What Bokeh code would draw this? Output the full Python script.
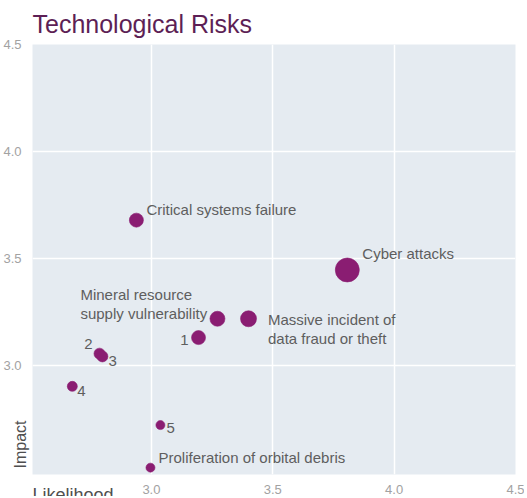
from bokeh.plotting import figure
from bokeh.models import ColumnDataSource, LabelSet, Range1d, FixedTicker, Title
from bokeh.core.properties import value
from bokeh.embed import file_html
from bokeh.resources import INLINE

# ---- data ----
title_text = "Technological Risks"
x_title = "Likelihood"
y_title = "Impact"
risks = ["Critical systems failure", "Cyber attacks",
         "Mineral resource\nsupply vulnerability",
         "Massive incident of\ndata fraud or theft",
         "1", "2", "3", "4", "5", "Proliferation of orbital debris"]
likelihood = [2.938, 3.807, 3.272, 3.400, 3.194, 2.786, 2.798, 2.674, 3.037, 2.996]
impact = [3.679, 3.446, 3.218, 3.218, 3.130, 3.055, 3.042, 2.902, 2.721, 2.522]
bubble = [14, 24, 15, 16, 14, 11, 11, 10, 9, 9]
x_ticks = [3.0, 3.5, 4.0, 4.5]
y_ticks = [3.0, 3.5, 4.0, 4.5]
tick_labels = ["3.0", "3.5", "4.0", "4.5"]

# ---- label styling (pixel offsets from each bubble) ----
lab_dx = [10, 15, -137, 147, -10, -7, 6, 5, 6, 8]
lab_dy = [11, 16, 15, -10, -2, 10, -5, -5, -3, 10]
lab_align = ["left", "left", "left", "right", "right", "right", "left", "left", "left", "left"]

PURPLE = "#8a1d72"
TEXT = "#5e5e5e"
TICK = "#a2a2a2"
DARK = "#4f4f4f"
FONT = "Liberation Sans"

x0, x1 = 2.51, 4.5
y0, y1 = 2.49, 4.5

p = figure(frame_width=483, frame_height=430,
           min_border_left=31, min_border_right=9, min_border_top=44, min_border_bottom=18,
           x_range=Range1d(x0, x1), y_range=Range1d(y0, y1),
           output_backend="svg", toolbar_location=None,
           background_fill_color="#e5ebf1", border_fill_color="white")
p.outline_line_color = None

p.title = Title(text=title_text, align="left", text_font=FONT, text_font_size="25px",
                text_font_style="normal", text_color="#5d1f55", standoff=13)

for ax in (p.xaxis[0], p.yaxis[0]):
    ax.axis_line_color = None
    ax.major_tick_line_color = None
    ax.minor_tick_line_color = None
    ax.major_label_text_color = TICK
    ax.major_label_text_font = FONT
    ax.major_label_text_font_size = "13px"
p.xaxis.ticker = FixedTicker(ticks=x_ticks)
p.yaxis.ticker = FixedTicker(ticks=y_ticks)
p.xaxis.major_label_overrides = {t: s for t, s in zip(x_ticks, tick_labels)}
p.yaxis.major_label_overrides = {t: s for t, s in zip(y_ticks, tick_labels)}
p.xaxis.major_label_standoff = 4
p.yaxis.major_label_standoff = 5

# axis names drawn as side titles that overlap the tick-label rows
p.add_layout(Title(text=x_title, align="left", vertical_align="top", text_font=FONT,
                   text_font_size="18px", text_font_style="normal", text_color=DARK,
                   standoff=-24), "below")
p.add_layout(Title(text=y_title, align="left", text_font=FONT, text_font_size="16px",
                   text_font_style="normal", text_color=DARK, standoff=-56, offset=6), "left")

p.xgrid.ticker = FixedTicker(ticks=x_ticks)
p.ygrid.ticker = FixedTicker(ticks=y_ticks)
p.grid.grid_line_color = "white"
p.grid.grid_line_width = 1.5

src = ColumnDataSource(dict(x=likelihood, y=impact, s=bubble, name=risks,
                            dx=lab_dx, dy=lab_dy, al=lab_align))
p.scatter("x", "y", size="s", source=src, fill_color=PURPLE, line_color=PURPLE,
          line_alpha=0.6, fill_alpha=1.0)

p.add_layout(LabelSet(x="x", y="y", text="name", source=src, x_offset="dx", y_offset="dy",
                      text_align="al", text_baseline="middle", text_color=TEXT,
                      text_font=value(FONT), text_font_size="15px", text_line_height=1.1))

open("out.html", "w").write(file_html(p, INLINE))
